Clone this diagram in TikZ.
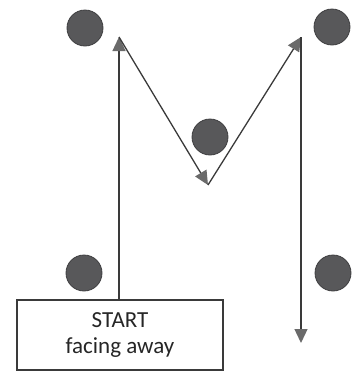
\documentclass[tikz,border=0pt]{standalone}
\usepackage{fontspec}
\setmainfont{Carlito}
\usetikzlibrary{arrows.meta}
\definecolor{dotfill}{HTML}{58585A}
\definecolor{dotedge}{HTML}{3E3E40}
\definecolor{pathline}{HTML}{3A3A3A}
\definecolor{tipfill}{HTML}{6A6A6A}
\tikzset{
  cone/.style={circle, fill=dotfill, draw=dotedge, line width=0.8pt, minimum size=36pt, inner sep=0pt},
  route/.style={draw=pathline, line width=1.3pt,
    -{Triangle[length=14pt, width=13pt, fill=tipfill, color=tipfill]}},
  startbox/.style={draw=pathline, line width=1.2pt, fill=white, minimum width=206pt,
    minimum height=70pt, align=center, font=\fontsize{23}{26}\selectfont, text=black!85}
}
\begin{document}
\begin{tikzpicture}[x=1pt, y=-1pt]
  \useasboundingbox (0,0) rectangle (358,381);
  % cones
  \node[cone] (c1) at (85,28) {};
  \node[cone] (c2) at (332,27) {};
  \node[cone] (c3) at (210,137) {};
  \node[cone] (c4) at (84,273) {};
  \node[cone] (c5) at (333,273) {};
  % start box
  \node[startbox] (start) at (120,335) {START\\facing away};
  % turning points of the M route
  \coordinate (p1) at (119,37);
  \coordinate (p2) at (208,185);
  \coordinate (p3) at (301,37);
  \coordinate (fin) at (301,343);
  \draw[route] (start.north -| p1) -- (p1);
  \draw[route] (p1) -- (p2);
  \draw[route] (p2) -- (p3);
  \draw[route] (p3) -- (fin);
\end{tikzpicture}
\end{document}
